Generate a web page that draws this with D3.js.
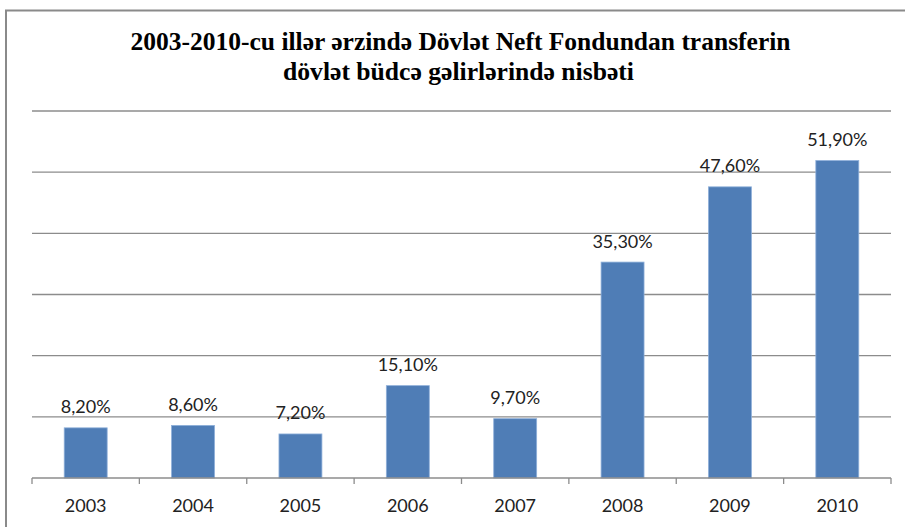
<!DOCTYPE html>
<html lang="az">
<head>
<meta charset="UTF-8">
<title>Dövlət Neft Fondundan transfer</title>
<script src="https://d3js.org/d3.v7.min.js"></script>
<style>
    body { margin: 0; background: #fff; }
    .grid line { stroke: #8c8c8c; stroke-width: 1.3px; }
    .label { font-family: Lato, "Open Sans", sans-serif; font-size: 18px; fill: #222; }
    .title { font-family: "Liberation Serif", "Times New Roman", serif; font-weight: bold; font-size: 25.5px; fill: #000; }
</style>
</head>
<body>
<svg id="chart"></svg>
<script>
    const years = ['2003', '2004', '2005', '2006', '2007', '2008', '2009', '2010'];
    const shares = [8.2, 8.6, 7.2, 15.1, 9.7, 35.3, 47.6, 51.9];
    const gridValues = [10, 20, 30, 40, 50, 60];
    const titleLines = [
        '2003-2010-cu illər ərzində Dövlət Neft Fondundan transferin',
        'dövlət büdcə gəlirlərində nisbəti'
    ];
    const titleWidths = [660, 351];

    const width = 905, height = 527;
    const svg = d3.select('#chart').attr('width', width).attr('height', height);

    // frame of the chart area (cut off at right and bottom)
    svg.append('path')
        .attr('d', `M6,${height} V10.5 H${width}`)
        .attr('fill', 'none')
        .attr('stroke', '#8a8a8a')
        .attr('stroke-width', 2);

    svg.selectAll('.title')
        .data(titleLines)
        .enter().append('text')
        .attr('class', 'title')
        .attr('x', (d, i) => i ? 458.5 : 460.5)
        .attr('y', (d, i) => 49.5 + i * 30.5)
        .attr('text-anchor', 'middle')
        .attr('textLength', (d, i) => titleWidths[i])
        .attr('lengthAdjust', 'spacingAndGlyphs')
        .text(d => d);

    const x = d3.scaleBand().domain(years).range([32, 891]).paddingInner(0.6).paddingOuter(0.3);
    const y = d3.scaleLinear().domain([0, 60]).range([478, 111]);

    // gridlines
    svg.append('g').attr('class', 'grid')
        .selectAll('line')
        .data(gridValues)
        .enter().append('line')
        .attr('x1', 32).attr('x2', 891)
        .attr('y1', d => y(d)).attr('y2', d => y(d));

    svg.selectAll('.bar')
        .data(shares)
        .enter().append('rect')
        .attr('class', 'bar')
        .attr('x', (d, i) => x(years[i]))
        .attr('width', x.bandwidth())
        .attr('y', d => y(d))
        .attr('height', d => y(0) - y(d))
        .attr('fill', '#4f7db6')
        .attr('stroke', '#8fb0da')
        .attr('stroke-width', 0.8);

    // x axis with ticks between categories
    const step = (891 - 32) / years.length;
    const axis = svg.append('g');
    axis.append('line')
        .attr('x1', 32).attr('x2', 891)
        .attr('y1', y(0)).attr('y2', y(0))
        .attr('stroke', '#8c8c8c').attr('stroke-width', 1.3);
    axis.selectAll('.tick')
        .data(d3.range(years.length + 1))
        .enter().append('line')
        .attr('x1', i => 32 + i * step).attr('x2', i => 32 + i * step)
        .attr('y1', y(0)).attr('y2', y(0) + 6)
        .attr('stroke', '#8c8c8c').attr('stroke-width', 1.3);

    svg.selectAll('.year')
        .data(years)
        .enter().append('text')
        .attr('class', 'label')
        .attr('x', d => x(d) + x.bandwidth() / 2)
        .attr('y', 512)
        .attr('text-anchor', 'middle')
        .text(d => d);

    svg.selectAll('.value')
        .data(shares)
        .enter().append('text')
        .attr('class', 'label')
        .attr('x', (d, i) => x(years[i]) + x.bandwidth() / 2)
        .attr('y', d => y(d) - 14.5)
        .attr('text-anchor', 'middle')
        .text(d => d.toFixed(2).replace('.', ',') + '%');
</script>
</body>
</html>
